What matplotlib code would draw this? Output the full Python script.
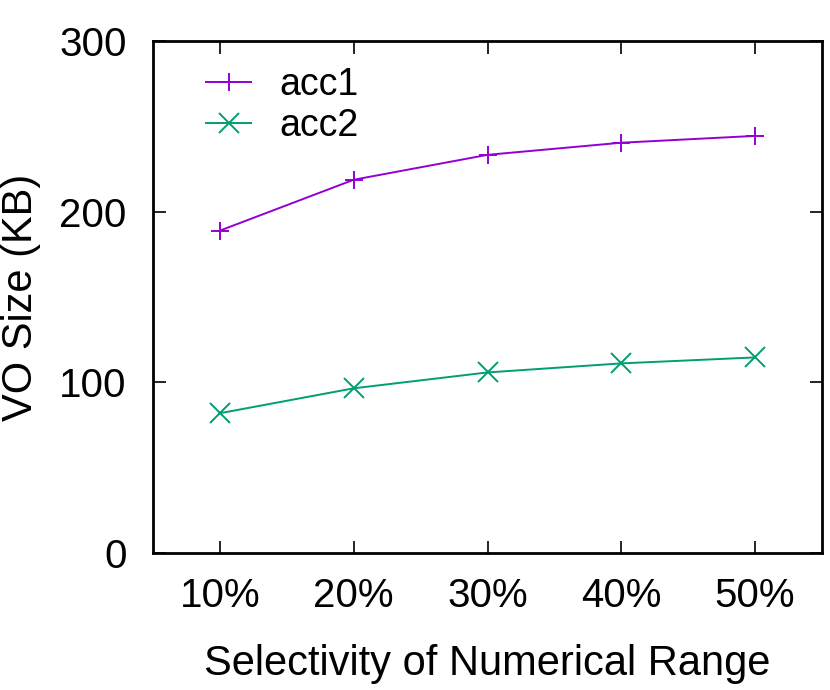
import matplotlib
matplotlib.use("Agg")
import matplotlib.pyplot as plt

# data
selectivity = [10, 20, 30, 40, 50]
tick_labels = ['10%', '20%', '30%', '40%', '50%']
acc1 = [188.9, 218.7, 233.3, 240.4, 244.4]
acc2 = [81.9, 96.5, 105.8, 111.1, 114.6]

plt.rcParams['font.family'] = ['Liberation Sans', 'DejaVu Sans']
plt.rcParams['font.size'] = 29

fig = plt.figure(figsize=(8.3, 6.9), dpi=100)
ax = fig.add_axes([153 / 830, 1 - 553 / 690, (822 - 153) / 830, (553 - 41) / 690])

ax.plot(selectivity, acc1, color='#9400d3', marker='+', markersize=13,
        markeredgewidth=1.4, linewidth=1.4, label='acc1')
ax.plot(selectivity, acc2, color='#009e73', marker='x', markersize=14,
        markeredgewidth=1.4, linewidth=1.4, label='acc2')

ax.set_xlim(5, 55)
ax.set_ylim(0, 300)
ax.set_xticks(selectivity)
ax.set_xticklabels(tick_labels)
ax.set_yticks([0, 100, 200, 300])

ax.tick_params(direction='in', length=9, width=1.2, top=True, right=True,
               labelsize=29)
ax.tick_params(axis='x', pad=17)
ax.tick_params(axis='y', pad=19)
for s in ax.spines.values():
    s.set_linewidth(2)

ax.set_ylabel('VO Size (KB)', fontsize=30, labelpad=13)
ax.set_xlabel('Selectivity of Numerical Range', fontsize=30, labelpad=21)

ax.legend(loc='upper left', frameon=False, fontsize=27, handlelength=1.2,
          handletextpad=0.75, labelspacing=0.12, borderaxespad=0.3,
          bbox_to_anchor=(0.04, 1.0))

fig.savefig('out.png', dpi=100)
